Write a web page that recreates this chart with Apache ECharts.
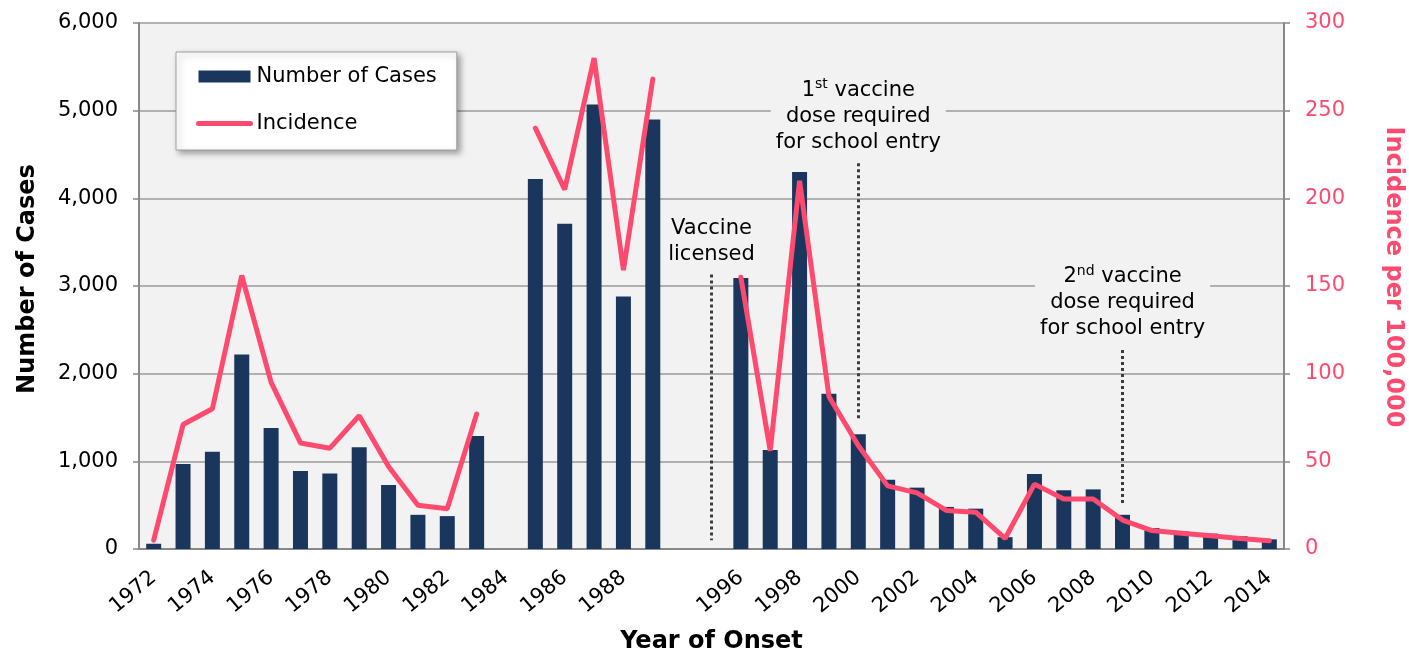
<!DOCTYPE html>
<html>
<head>
<meta charset="utf-8">
<script src="https://cdn.jsdelivr.net/npm/echarts@6/dist/echarts.min.js"></script>
<style>
  html, body { margin: 0; padding: 0; background: #fff; }
  #chart { width: 1409px; height: 652px; }
</style>
</head>
<body>
<div id="chart"></div>
<script>
// categories: 1984 has no data, two blank slots stand for the 1990-1995 gap
var years = ['1972','1973','1974','1975','1976','1977','1978','1979','1980','1981',
             '1982','1983','1984','1985','1986','1987','1988','1989','',' ',
             '1996','1997','1998','1999','2000','2001','2002','2003','2004','2005',
             '2006','2007','2008','2009','2010','2011','2012','2013','2014'];

var cases = [60, 970, 1110, 2220, 1380, 890, 860, 1160, 730, 390,
             375, 1290, null, 4220, 3710, 5070, 2880, 4900, null, null,
             3090, 1130, 4300, 1770, 1310, 790, 700, 480, 460, 135,
             855, 670, 680, 390, 240, 200, 175, 145, 110];

var incidence = [5, 71, 80, 156, 95, 60.5, 57.5, 76, 47, 25,
                 23, 77, null, 240, 205, 280, 159, 268, null, null,
                 155, 56, 210, 87, 59, 36, 32, 22, 21, 6,
                 37, 28.5, 28.5, 16.5, 10.5, 9, 7.5, 6, 4.7];

var casesTicks = [0, 6000, 1000];
var incidenceTicks = [0, 300, 50];

// annotation lines: category index, top and bottom value on the cases axis
var notes = [
  { x: 19, top: 3130, bottom: 100, gap: 5, text: '{t|Vaccine}\n{t|licensed}' },
  { x: 24, top: 4400, bottom: 1470, gap: 6, text: '{t|1}{s|st}{t| vaccine}\n{t|dose required}\n{t|for school entry}' },
  { x: 33, top: 2270, bottom: 525, gap: 6, text: '{t|2}{s|nd}{t| vaccine}\n{t|dose required}\n{t|for school entry}' }
];

var navy = '#1a365d';
var pink = '#ff4a6f';
var font = 'DejaVu Sans, Verdana, sans-serif';

var chart = echarts.init(document.getElementById('chart'));

var option = {
  animation: false,
  textStyle: { fontFamily: font },
  grid: {
    left: 139, right: 125, top: 23, bottom: 103,
    containLabel: false,
    outerBoundsMode: 'none',
    show: true, backgroundColor: '#f2f2f2', borderWidth: 0
  },
  legend: {
    orient: 'vertical',
    left: 176, top: 52,
    padding: [14, 20, 16, 20],
    itemGap: 26,
    itemWidth: 52,
    itemHeight: 12,
    backgroundColor: '#fff',
    borderColor: '#a0a0a0',
    borderWidth: 1,
    shadowBlur: 6,
    shadowColor: 'rgba(0,0,0,0.35)',
    shadowOffsetX: 3,
    shadowOffsetY: 3,
    textStyle: { fontSize: 21, color: '#000', padding: [0, 0, 0, 1] },
    data: [
      { name: 'Number of Cases', icon: 'rect' },
      {
        name: 'Incidence',
        itemStyle: { color: 'rgba(0,0,0,0)', borderWidth: 0 },
        lineStyle: { color: pink, width: 5, cap: 'round' }
      }
    ]
  },
  xAxis: {
    type: 'category',
    data: years,
    name: 'Year of Onset',
    nameLocation: 'middle',
    nameGap: 81,
    nameTextStyle: { fontSize: 24, fontWeight: 'bold', color: '#000' },
    axisLine: { lineStyle: { color: '#888', width: 2 } },
    axisTick: { interval: 0, length: 6, lineStyle: { color: '#888', width: 1.5 } },
    axisLabel: { interval: 1, rotate: 40, fontSize: 21, color: '#000', margin: 26 }
  },
  yAxis: [
    {
      type: 'value',
      min: casesTicks[0], max: casesTicks[1], interval: casesTicks[2],
      name: 'Number of Cases',
      nameLocation: 'middle',
      nameGap: 99,
      nameRotate: 90,
      nameTextStyle: { fontSize: 24, fontWeight: 'bold', color: '#000', padding: [0, 0, 0, 14] },
      axisLine: { show: true, lineStyle: { color: '#888', width: 2 } },
      axisTick: { show: true, length: 6, lineStyle: { color: '#888', width: 1.5 } },
      axisLabel: {
        fontSize: 21, color: '#000', margin: 21,
        formatter: function (v) { return v.toLocaleString('en-US'); }
      },
      splitLine: { lineStyle: { color: '#9a9a9a', width: 1.5 } }
    },
    {
      type: 'value',
      min: incidenceTicks[0], max: incidenceTicks[1], interval: incidenceTicks[2],
      name: 'Incidence per 100,000',
      nameLocation: 'middle',
      nameGap: 97,
      nameRotate: -90,
      nameTextStyle: { fontSize: 24, fontWeight: 'bold', color: pink, padding: [0, 18, 0, 0] },
      axisLine: { show: true, lineStyle: { color: '#888', width: 2 } },
      axisTick: { show: true, length: 6, lineStyle: { color: '#888', width: 1.5 } },
      axisLabel: { fontSize: 21, color: pink, margin: 21 },
      splitLine: { show: false }
    }
  ],
  series: [
    {
      name: 'Number of Cases',
      type: 'bar',
      data: cases,
      barWidth: 15,
      itemStyle: { color: navy },
      markLine: {
        silent: true,
        symbol: 'none',
        lineStyle: { color: '#3c3c3c', width: 3, type: [3, 3] },
        label: {
          show: true,
          position: 'start',
          color: '#000',
          backgroundColor: '#f2f2f2',
          padding: [2, 5],
          rich: {
            t: { fontSize: 21, lineHeight: 26, color: '#000', fontFamily: font },
            s: { fontSize: 14, lineHeight: 26, color: '#000', fontFamily: font, verticalAlign: 'top', padding: [0, 0, 12, 0] }
          }
        },
        data: notes.map(function (n) {
          return [
            { coord: [n.x, n.top], label: { formatter: n.text, distance: n.gap } },
            { coord: [n.x, n.bottom] }
          ];
        })
      }
    },
    {
      name: 'Incidence',
      type: 'line',
      yAxisIndex: 1,
      data: incidence,
      connectNulls: false,
      showSymbol: false,
      symbol: 'none',
      lineStyle: { color: pink, width: 5, cap: 'round' },
      itemStyle: { color: pink }
    }
  ]
};

chart.setOption(option);
</script>
</body>
</html>
